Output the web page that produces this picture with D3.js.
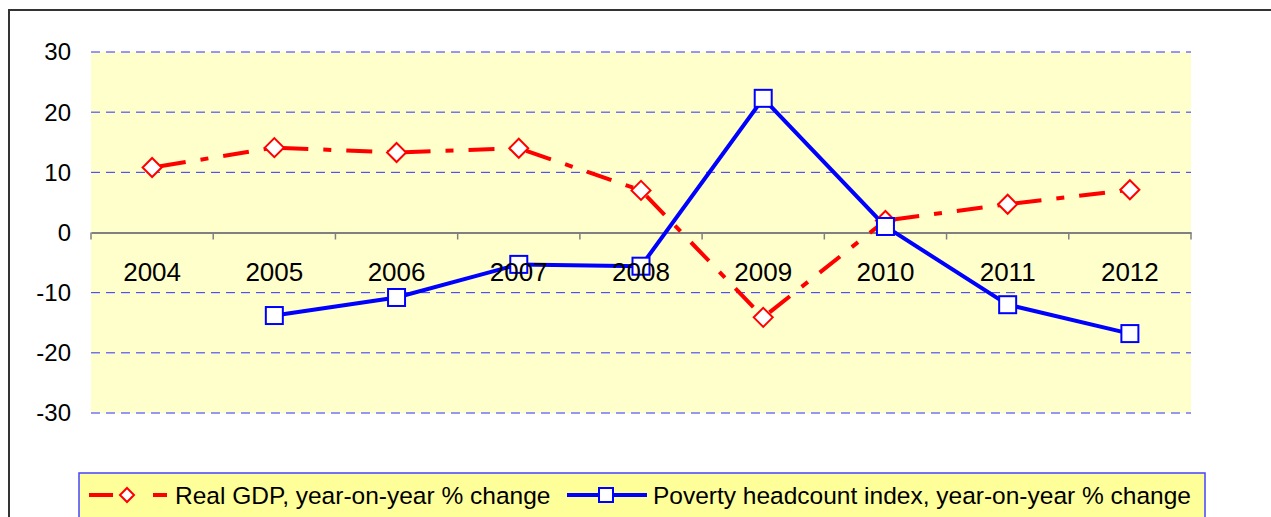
<!DOCTYPE html>
<html>
<head>
<meta charset="utf-8">
<script src="https://cdn.jsdelivr.net/npm/d3@7"></script>
<style>
  body { margin: 0; background: #fff; }
  svg { display: block; font-family: Arial, "Liberation Sans", sans-serif; }
</style>
</head>
<body>
<script>
// chart data
const years = ["2004", "2005", "2006", "2007", "2008", "2009", "2010", "2011", "2012"];
const gdp = [10.8, 14.1, 13.3, 14.0, 7.0, -14.1, 2.0, 4.7, 7.1];
const poverty = [null, -13.8, -10.8, -5.3, -5.6, 22.3, 1.0, -12.0, -16.8];
const yTicks = [30, 20, 10, 0, -10, -20, -30];
const gdpLabel = "Real GDP, year-on-year % change";
const povertyLabel = "Poverty headcount index, year-on-year % change";

const width = 1271;
const height = 517;
const marginLeft = 91;
const marginRight = 80;
const marginTop = 52;
const plotBottom = 413;

const svg = d3.select("body").append("svg")
    .attr("width", width)
    .attr("height", height);

// outer frame (runs off the bottom/right like the original)
svg.append("rect")
    .attr("x", 9).attr("y", 10)
    .attr("width", width + 20).attr("height", height + 20)
    .attr("fill", "#fff")
    .attr("stroke", "#333")
    .attr("stroke-width", 2);

const x = d3.scaleBand()
    .domain(years)
    .range([marginLeft, width - marginRight])
    .padding(0);

const y = d3.scaleLinear()
    .domain([-30, 30])
    .range([plotBottom, marginTop]);

// plot area background
svg.append("rect")
    .attr("x", marginLeft)
    .attr("y", y(30))
    .attr("width", x.range()[1] - marginLeft)
    .attr("height", y(-30) - y(30))
    .attr("fill", "#ffffcc");

// dashed grid lines
svg.append("g")
    .selectAll("line")
    .data(yTicks.filter(d => d !== 0))
    .join("line")
    .attr("x1", marginLeft)
    .attr("x2", x.range()[1])
    .attr("y1", d => y(d))
    .attr("y2", d => y(d))
    .attr("stroke", "#2f2fff")
    .attr("stroke-width", 1)
    .attr("stroke-dasharray", "9,6");

// y axis labels
svg.append("g")
    .selectAll("text")
    .data(yTicks)
    .join("text")
    .attr("x", 71)
    .attr("y", d => y(d))
    .attr("dy", "0.35em")
    .attr("text-anchor", "end")
    .attr("font-size", "24px")
    .attr("fill", "#000")
    .text(d => d);

// x axis line at zero (labels are added last so they sit over the markers)
const xAxis = svg.append("g")
    .attr("transform", `translate(0,${y(0)})`)
    .call(d3.axisBottom(x).tickSize(0).tickPadding(30).tickSizeOuter(0));
xAxis.select(".domain").attr("stroke", "#808080").attr("stroke-width", 2);
xAxis.selectAll(".tick text").remove();

// tick marks between categories
svg.append("g")
    .selectAll("line")
    .data(years.concat(["end"]))
    .join("line")
    .attr("x1", (d, i) => marginLeft + i * x.step())
    .attr("x2", (d, i) => marginLeft + i * x.step())
    .attr("y1", y(0))
    .attr("y2", y(0) + 7)
    .attr("stroke", "#808080")
    .attr("stroke-width", 1.5);

const cx = d => x(d) + x.bandwidth() / 2;

// Real GDP line, dash pattern restarts at each point
const gdpPts = years.map((yr, i) => ({ year: yr, val: gdp[i] }));
svg.append("g")
    .selectAll("line")
    .data(d3.pairs(gdpPts))
    .join("line")
    .attr("x1", d => cx(d[0].year))
    .attr("y1", d => y(d[0].val))
    .attr("x2", d => cx(d[1].year))
    .attr("y2", d => y(d[1].val))
    .attr("stroke", "#ff0000")
    .attr("stroke-width", 4)
    .attr("stroke-dasharray", "26,15,8,15")
    .attr("stroke-dashoffset", -8);

// poverty line
const povPts = years.map((yr, i) => ({ year: yr, val: poverty[i] }));
const povLine = d3.line()
    .defined(d => d.val !== null)
    .x(d => cx(d.year))
    .y(d => y(d.val));
svg.append("path")
    .attr("fill", "none")
    .attr("stroke", "#0000ff")
    .attr("stroke-width", 4)
    .attr("d", povLine(povPts));

// markers
const diamond = s => `M0,${-s}L${s},0L0,${s}L${-s},0Z`;
svg.append("g")
    .selectAll("path")
    .data(gdpPts)
    .join("path")
    .attr("transform", d => `translate(${cx(d.year)},${y(d.val)})`)
    .attr("d", diamond(9.5))
    .attr("fill", "#fff")
    .attr("stroke", "#ff0000")
    .attr("stroke-width", 2);

svg.append("g")
    .selectAll("rect")
    .data(povPts.filter(d => d.val !== null))
    .join("rect")
    .attr("x", d => cx(d.year) - 8.5)
    .attr("y", d => y(d.val) - 8.5)
    .attr("width", 17)
    .attr("height", 17)
    .attr("fill", "#fff")
    .attr("stroke", "#0000ff")
    .attr("stroke-width", 2);

// category labels on top
svg.append("g")
    .selectAll("text")
    .data(years)
    .join("text")
    .attr("x", d => cx(d))
    .attr("y", y(0) + 48)
    .attr("text-anchor", "middle")
    .attr("font-size", "26px")
    .attr("fill", "#000")
    .text(d => d);

// legend
const legend = svg.append("g");
legend.append("rect")
    .attr("x", 79).attr("y", 473)
    .attr("width", 1126).attr("height", 60)
    .attr("fill", "#ffff99")
    .attr("stroke", "#4444ff")
    .attr("stroke-width", 1.5);

const ly = 495;
legend.append("line")
    .attr("x1", 89).attr("x2", 113).attr("y1", ly).attr("y2", ly)
    .attr("stroke", "#ff0000").attr("stroke-width", 4);
legend.append("line")
    .attr("x1", 153).attr("x2", 167).attr("y1", ly).attr("y2", ly)
    .attr("stroke", "#ff0000").attr("stroke-width", 4);
legend.append("path")
    .attr("transform", `translate(127,${ly})`)
    .attr("d", diamond(7))
    .attr("fill", "#fff")
    .attr("stroke", "#ff0000")
    .attr("stroke-width", 2);
legend.append("text")
    .attr("x", 175).attr("y", ly).attr("dy", "0.35em")
    .attr("font-size", "24.5px")
    .text(gdpLabel);

legend.append("line")
    .attr("x1", 567).attr("x2", 647).attr("y1", ly).attr("y2", ly)
    .attr("stroke", "#0000ff").attr("stroke-width", 4);
legend.append("rect")
    .attr("x", 599).attr("y", ly - 7)
    .attr("width", 14).attr("height", 14)
    .attr("fill", "#fff")
    .attr("stroke", "#0000ff")
    .attr("stroke-width", 2);
legend.append("text")
    .attr("x", 653).attr("y", ly).attr("dy", "0.35em")
    .attr("font-size", "24.5px")
    .text(povertyLabel);
</script>
</body>
</html>
